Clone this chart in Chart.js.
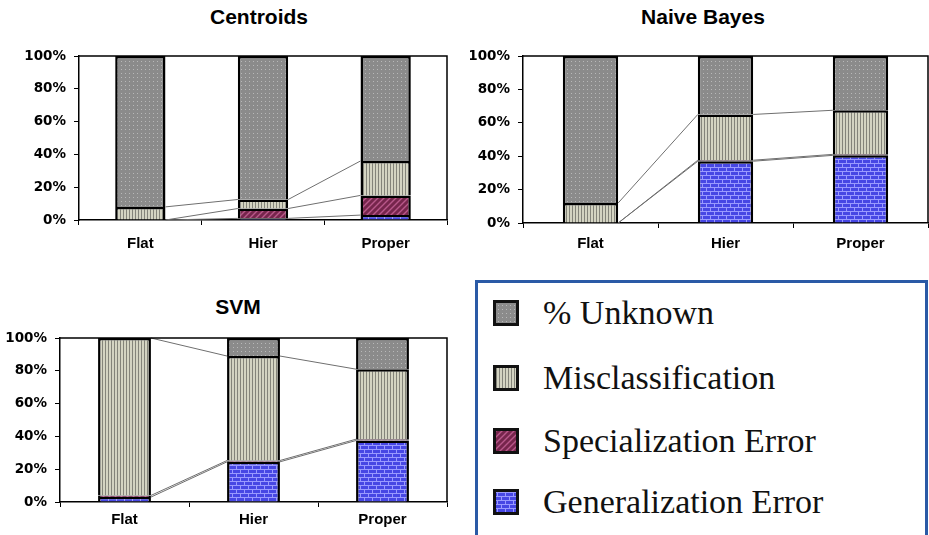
<!DOCTYPE html>
<html>
<head>
<meta charset="utf-8">
<script src="https://cdn.jsdelivr.net/npm/chart.js@4.4.0/dist/chart.umd.min.js"></script>
<style>
  body { margin: 0; background: #fff; width: 929px; height: 535px; overflow: hidden; position: relative; }
  .box { position: absolute; }
  .title { position: absolute; font: bold 21px "Liberation Sans", Arial, sans-serif; color: #000; transform: translateX(-50%); white-space: nowrap; }
  #legend { position: absolute; left: 475px; top: 280px; width: 453px; height: 262px; border: 3px solid #2a5aa6; box-sizing: border-box; background: #fff; }
  .row { position: absolute; left: 15px; display: flex; align-items: center; height: 26px; }
  .row canvas { width: 26px; height: 26px; }
  .row span { margin-left: 24px; font: 34px "Liberation Serif", "Times New Roman", serif; color: #111; line-height: 26px; }
</style>
</head>
<body>
<div class="title" style="left:259px; top:5px;">Centroids</div>
<div class="title" style="left:703px; top:5px;">Naive Bayes</div>
<div class="title" style="left:238px; top:295px;">SVM</div>

<div class="box" style="left:0; top:0; width:470px; height:260px;"><canvas id="centroids-chart"></canvas></div>
<div class="box" style="left:470px; top:0; width:459px; height:260px;"><canvas id="bayes-chart"></canvas></div>
<div class="box" style="left:0; top:270px; width:470px; height:265px;"><canvas id="svm-chart"></canvas></div>

<div id="legend"></div>

<script>
// data
const categories = ["Flat", "Hier", "Proper"];
const seriesNames = ["Generalization Error", "Specialization Error", "Misclassification", "% Unknown"];
const yTicks = [0, 20, 40, 60, 80, 100];

const centroidsGen = [0, 1, 3];
const centroidsSpec = [0, 6, 12];
const centroidsMis = [8, 5.5, 21];
const centroidsUnk = [92, 87.5, 64];

const bayesGen = [0, 37, 40.5];
const bayesSpec = [0, 0.6, 0.6];
const bayesMis = [12, 27.4, 26.4];
const bayesUnk = [88, 35, 32.5];

const svmGen = [3, 24.5, 37.5];
const svmSpec = [1, 0.8, 0.8];
const svmMis = [96, 63.7, 42.7];
const svmUnk = [0, 11, 19];

// fill patterns
function makeTile(kind) {
  const c = document.createElement('canvas');
  const ctx = c.getContext('2d');
  if (kind === 'unk') {
    c.width = 4; c.height = 4;
    ctx.fillStyle = '#8b8b8b'; ctx.fillRect(0, 0, 4, 4);
    ctx.fillStyle = '#b8b8b8'; ctx.fillRect(1, 1, 1, 1);
  } else if (kind === 'mis') {
    c.width = 3; c.height = 3;
    ctx.fillStyle = '#d4d4c2'; ctx.fillRect(0, 0, 3, 3);
    ctx.fillStyle = '#84847a'; ctx.fillRect(0, 0, 1, 3);
  } else if (kind === 'spec') {
    c.width = 6; c.height = 6;
    ctx.fillStyle = '#76254c'; ctx.fillRect(0, 0, 6, 6);
    ctx.strokeStyle = '#b9588a'; ctx.lineWidth = 1.4;
    ctx.beginPath();
    ctx.moveTo(-1, 7); ctx.lineTo(7, -1);
    ctx.moveTo(-4, 4); ctx.lineTo(4, -4);
    ctx.moveTo(2, 10); ctx.lineTo(10, 2);
    ctx.stroke();
  } else {
    c.width = 8; c.height = 8;
    ctx.fillStyle = '#4747e4'; ctx.fillRect(0, 0, 8, 8);
    ctx.fillStyle = '#9a9aff';
    ctx.fillRect(0, 3, 8, 1); ctx.fillRect(0, 7, 8, 1);
    ctx.fillRect(0, 0, 1, 3); ctx.fillRect(4, 4, 1, 3);
  }
  return c;
}

function makePattern(kind) {
  const ctx = document.createElement('canvas').getContext('2d');
  return ctx.createPattern(makeTile(kind), 'repeat');
}

const fills = [makePattern('gen'), makePattern('spec'), makePattern('mis'), makePattern('unk')];

// series lines + plot frame
const seriesLines = {
  id: 'seriesLines',
  afterDatasetsDraw(chart) {
    const ctx = chart.ctx;
    ctx.save();
    ctx.strokeStyle = '#6f6f6f';
    ctx.lineWidth = 1;
    for (let d = 0; d < 3; d++) {
      const bars = chart.getDatasetMeta(d).data;
      for (let i = 0; i < bars.length - 1; i++) {
        const a = bars[i], b = bars[i + 1];
        ctx.beginPath();
        ctx.moveTo(a.x + a.width / 2, a.y);
        ctx.lineTo(b.x - b.width / 2, b.y);
        ctx.stroke();
      }
    }
    const area = chart.chartArea;
    ctx.strokeStyle = '#000';
    ctx.lineWidth = 1.5;
    ctx.beginPath();
    ctx.moveTo(area.left, area.top);
    ctx.lineTo(area.right, area.top);
    ctx.lineTo(area.right, area.bottom);
    ctx.stroke();
    ctx.restore();
  }
};

function buildChart(id, values, pad, yWidth, xHeight, xPad) {
  const datasets = values.map((v, i) => ({
    label: seriesNames[i],
    data: v,
    backgroundColor: fills[i],
    borderColor: '#000',
    borderWidth: 2.5,
    categoryPercentage: 1,
    barPercentage: 0.41
  }));
  return new Chart(document.getElementById(id), {
    type: 'bar',
    data: { labels: categories, datasets: datasets },
    options: {
      responsive: true,
      maintainAspectRatio: false,
      animation: false,
      layout: { padding: pad },
      plugins: { legend: { display: false }, tooltip: { enabled: false } },
      scales: {
        x: {
          stacked: true,
          grid: { drawOnChartArea: false, tickLength: 5, color: '#000', lineWidth: 1 },
          border: { color: '#000', width: 1.5 },
          ticks: { color: '#000', padding: xPad, font: { family: 'Liberation Sans', size: 15, weight: 'bold' } },
          afterFit: s => { s.height = xHeight; }
        },
        y: {
          stacked: true,
          min: 0,
          max: 100,
          afterBuildTicks: s => { s.ticks = yTicks.map(v => ({ value: v })); },
          grid: { drawOnChartArea: false, tickLength: 5, color: '#000', lineWidth: 1 },
          border: { color: '#000', width: 1.5 },
          ticks: { color: '#000', padding: 8, callback: v => v + '%', font: { family: 'DejaVu Sans', size: 13.5, weight: 'bold' } },
          afterFit: s => { s.width = yWidth; }
        }
      }
    },
    plugins: [seriesLines]
  });
}

let centroidsChart = buildChart('centroids-chart',
  [centroidsGen, centroidsSpec, centroidsMis, centroidsUnk],
  { top: 56, left: 0, right: 23, bottom: 0 }, 79, 40, 10);

let bayesChart = buildChart('bayes-chart',
  [bayesGen, bayesSpec, bayesMis, bayesUnk],
  { top: 56, left: 0, right: 1, bottom: 0 }, 53, 37, 7);

let svmChart = buildChart('svm-chart',
  [svmGen, svmSpec, svmMis, svmUnk],
  { top: 68, left: 0, right: 23, bottom: 0 }, 60, 33, 4);

// legend box
const legend = document.getElementById('legend');
const legendOrder = [3, 2, 1, 0];
const legendKinds = ['gen', 'spec', 'mis', 'unk'];
const rowTops = [17, 82, 145, 206];

legendOrder.forEach((s, r) => {
  const row = document.createElement('div');
  row.className = 'row';
  row.style.top = rowTops[r] + 'px';
  const sw = document.createElement('canvas');
  sw.width = 26; sw.height = 26;
  const sctx = sw.getContext('2d');
  sctx.fillStyle = sctx.createPattern(makeTile(legendKinds[s]), 'repeat');
  sctx.fillRect(0, 0, 26, 26);
  sctx.strokeStyle = '#111';
  sctx.lineWidth = 3;
  sctx.strokeRect(1.5, 1.5, 23, 23);
  const label = document.createElement('span');
  label.textContent = seriesNames[s];
  row.appendChild(sw);
  row.appendChild(label);
  legend.appendChild(row);
});
</script>
</body>
</html>
